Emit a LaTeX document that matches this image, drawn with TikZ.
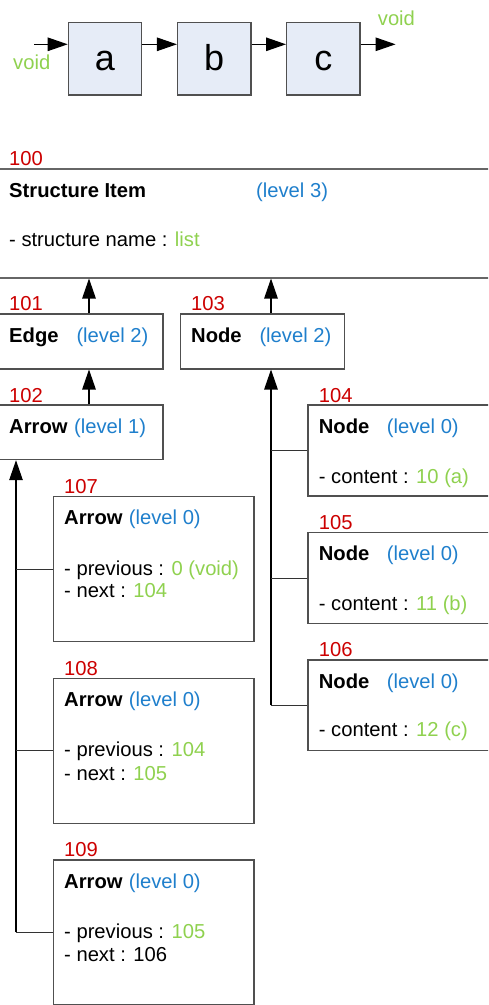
\documentclass[tikz,border=0pt]{standalone}
\usepackage{fontspec}
\setmainfont{Liberation Sans}
\usetikzlibrary{arrows.meta}
\definecolor{numred}{HTML}{CC0000}
\definecolor{lvblue}{HTML}{1F7FCC}
\definecolor{valgreen}{HTML}{8FD14F}
\definecolor{bordergray}{HTML}{505050}
\definecolor{boxfill}{HTML}{E6ECF7}
\tikzset{
  bx/.style={draw=bordergray, line width=1.2pt, inner sep=0pt, anchor=north west},
  topbox/.style={draw=bordergray, line width=1.2pt, fill=boxfill, inner sep=0pt,
     minimum width=73.4pt, minimum height=72.7pt, text height=24pt, text depth=0pt,
     font=\fontsize{36}{40}\selectfont},
  txt/.style={anchor=base west, inner sep=0pt, font=\fontsize{20.2}{24}\selectfont},
  num/.style={txt, text=numred},
  lv/.style={txt, text=lvblue},
  gr/.style={txt, text=valgreen},
  ttl/.style={txt, font=\fontsize{20.2}{24}\selectfont\bfseries},
  arr/.style={line width=1.2pt, -{Triangle[length=20pt,width=13.5pt]}},
  br/.style={line width=0.9pt, draw=black!80},
}
\begin{document}
\begin{tikzpicture}[x=1pt,y=-1pt]
\useasboundingbox (0,0) rectangle (488,1005);
\clip (0,0) rectangle (488,1005);
% top row
\node[topbox] (a) at (105,58.7) {a};
\node[topbox] (b) at (214.2,58.7) {b};
\node[topbox] (c) at (323.3,58.7) {c};
\coordinate (ay) at (0,44.3);
\coordinate (inL) at (34,44.3);
\coordinate (outR) at (395.6,44.3);
\draw[arr] (inL) -- (a.west |- ay);
\draw[arr] (a.east |- ay) -- (b.west |- ay);
\draw[arr] (b.east |- ay) -- (c.west |- ay);
\draw[arr] (c.east |- ay) -- (outR);
\node[txt, text=valgreen] (voidL) at (13,69) {void};
\node[txt, text=valgreen] (voidR) at (377.7,25) {void};

% structure item
\node[bx, draw=black!60, line width=1.5pt, minimum width=496pt, minimum height=109pt] (si) at (-4,168) {};
\node[num] (t100) at (9,165) {100};
\node[ttl] (tsi) at (9,197.3) {Structure Item};
\node[lv] (tl3) at (256,197.3) {(level 3)};
\node[txt] (tsn) at (9,246) {- structure name : \textcolor{valgreen}{list}};

% level 2 / level 1
\node[bx, minimum width=165.3pt, minimum height=55pt] (edge) at (-3,313.3) {};
\node[num] (t101) at (9,310.7) {101};
\node[ttl] (te) at (9,342) {Edge};
\node[lv] (tel) at (76.3,342) {(level 2)};

\node[bx, minimum width=163.7pt, minimum height=55pt] (node2) at (180,313.3) {};
\node[num] (t103) at (191,310.7) {103};
\node[ttl] (tn) at (191,342) {Node};
\node[lv] (tnl) at (259.3,342) {(level 2)};

\node[bx, minimum width=165.3pt, minimum height=54.7pt] (arrow1) at (-3,404.3) {};
\node[num] (t102) at (9,402.3) {102};
\node[ttl] (ta) at (9,433) {Arrow};
\node[lv] (tal) at (74,433) {(level 1)};

\coordinate (ex) at (89,0);
\coordinate (nx) at (271,0);
\coordinate (lx) at (16,0);
\draw[arr] (ex |- edge.north) -- (ex |- si.south);
\draw[arr] (nx |- node2.north) -- (nx |- si.south);
\draw[arr] (ex |- arrow1.north) -- (ex |- edge.south);

% node level 0 boxes
\node[bx, minimum width=190pt, minimum height=91pt] (n104) at (307.3,404.3) {};
\node[num] (t104) at (318.7,402.3) {104};
\node[ttl] (tn4) at (318.7,433) {Node};
\node[lv] (tn4l) at (386.7,433) {(level 0)};
\node[txt] (tc4) at (318.7,483.3) {- content : \textcolor{valgreen}{10 (a)}};

\node[bx, minimum width=190pt, minimum height=91.3pt] (n105) at (307.3,531.7) {};
\node[num] (t105) at (318.7,529) {105};
\node[ttl] (tn5) at (318.7,560.7) {Node};
\node[lv] (tn5l) at (386.7,560.7) {(level 0)};
\node[txt] (tc5) at (318.7,610) {- content : \textcolor{valgreen}{11 (b)}};

\node[bx, minimum width=190pt, minimum height=90.7pt] (n106) at (307.3,659.3) {};
\node[num] (t106) at (318.7,656) {106};
\node[ttl] (tn6) at (318.7,688.3) {Node};
\node[lv] (tn6l) at (386.7,688.3) {(level 0)};
\node[txt] (tc6) at (318.7,736.7) {- content : \textcolor{valgreen}{12 (c)}};

\draw[arr] (n106.west -| nx) -- (nx |- node2.south);
\draw[br] (n104.west) -- (n104.west -| nx);
\draw[br] (n105.west) -- (n105.west -| nx);
\draw[br] (n106.west) -- (n106.west -| nx);

% arrow level 0 boxes
\node[bx, minimum width=200.6pt, minimum height=145.3pt] (a107) at (52.7,495.7) {};
\node[num] (t107) at (64,493) {107};
\node[ttl] (ta7) at (64,524) {Arrow};
\node[lv] (ta7l) at (128.7,524) {(level 0)};
\node[txt] (tp7) at (64,575) {- previous : \textcolor{valgreen}{0 (void)}};
\node[txt] (tx7) at (64,597.7) {- next : \textcolor{valgreen}{104}};

\node[bx, minimum width=200.6pt, minimum height=145pt] (a108) at (52.7,677.7) {};
\node[num] (t108) at (64,675) {108};
\node[ttl] (ta8) at (64,706.7) {Arrow};
\node[lv] (ta8l) at (128.7,706.7) {(level 0)};
\node[txt] (tp8) at (64,756) {- previous : \textcolor{valgreen}{104}};
\node[txt] (tx8) at (64,780) {- next : \textcolor{valgreen}{105}};

\node[bx, minimum width=200.6pt, minimum height=145pt] (a109) at (52.7,859.3) {};
\node[num] (t109) at (64,856.7) {109};
\node[ttl] (ta9) at (64,888.3) {Arrow};
\node[lv] (ta9l) at (128.7,888.3) {(level 0)};
\node[txt] (tp9) at (64,938.3) {- previous : \textcolor{valgreen}{105}};
\node[txt] (tx9) at (64,961.7) {- next : 106};

\draw[arr] (a109.west -| lx) -- (lx |- arrow1.south);
\draw[br] (a107.west) -- (a107.west -| lx);
\draw[br] (a108.west) -- (a108.west -| lx);
\draw[br] (a109.west) -- (a109.west -| lx);
\end{tikzpicture}
\end{document}
